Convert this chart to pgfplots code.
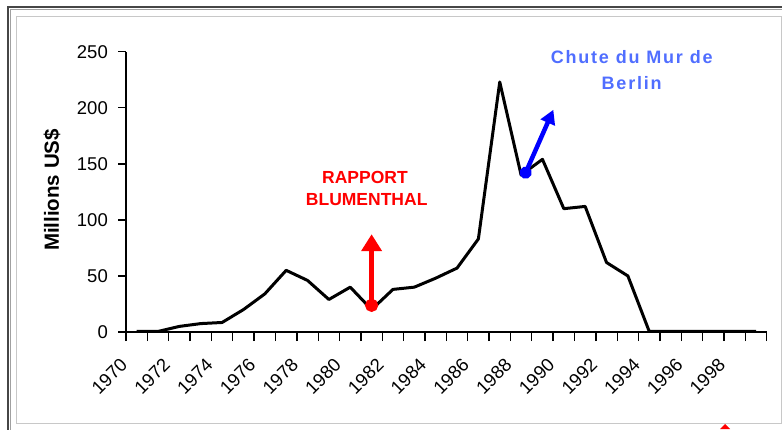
\documentclass[border=0pt]{standalone}
\usepackage{fontspec}
\setmainfont{Liberation Sans}
\newfontfamily\spacedfont[LetterSpace=10]{Liberation Sans}
\usepackage{pgfplots}
\pgfplotsset{compat=1.18}
\usetikzlibrary{arrows.meta}
\definecolor{berlinblue}{RGB}{80,110,255}
\definecolor{framedark}{RGB}{70,70,70}
\definecolor{framelight}{RGB}{200,200,200}
\newcommand{\tl}[1]{\fontsize{18.5}{20}\selectfont #1}
\begin{document}
\begin{tikzpicture}
\draw[framelight, line width=1pt] (16.3pt,5.7pt) rectangle (781pt,412.7pt);
\draw[framedark, line width=2.2pt] (7.8pt,-20pt) -- (7.8pt,421.7pt) -- (800pt,421.7pt);
\draw[framelight!80!black, line width=0.8pt] (10.2pt,-20pt) -- (10.2pt,419.3pt) -- (800pt,419.3pt);
\begin{axis}[
  at={(126pt,97pt)}, anchor=south west,
  scale only axis, width=640.7pt, height=280.3pt,
  xmin=1969.5, xmax=1999.5, ymin=0, ymax=250,
  axis x line*=bottom, axis y line*=left,
  axis line style={black, line width=1.5pt},
  ytick={0,50,100,150,200,250},
  yticklabels={\tl{0},\tl{50},\tl{100},\tl{150},\tl{200},\tl{250}},
  xtick={1970,1972,1974,1976,1978,1980,1982,1984,1986,1988,1990,1992,1994,1996,1998},
  xticklabels={\tl{1970},\tl{1972},\tl{1974},\tl{1976},\tl{1978},\tl{1980},\tl{1982},\tl{1984},\tl{1986},\tl{1988},\tl{1990},\tl{1992},\tl{1994},\tl{1996},\tl{1998}},
  minor xtick={1969.5,1970.5,...,1999.5},
  major x tick style={draw=none},
  tick align=outside,
  major tick length=8pt, minor tick length=9pt,
  tick style={black, line width=1.4pt},
  xticklabel style={inner sep=0pt, xshift=-17.3pt, yshift=-17pt, rotate=45, anchor=north east},
  yticklabel style={inner sep=0pt, anchor=east, xshift=-10pt},
  clip=false,
]
\addplot[black, line width=3pt, line join=round] coordinates {
(1970,0.5) (1971,0.5) (1972,5) (1973,7.5) (1974,8.5) (1975,20) (1976,34)
(1977,55) (1978,46) (1979,29) (1980,40) (1981,20) (1982,38) (1983,40)
(1984,48) (1985,57) (1986,83) (1987,223) (1988,140) (1989,154) (1990,110)
(1991,112) (1992,62) (1993,50) (1994,0.5) (1995,0.5) (1996,0.5) (1997,0.5)
(1998,0.5) (1999,0.5)
};
\draw[red, line width=5pt, {Circle[length=13pt,width=13pt]}-{Triangle[length=17pt,width=20pt]}]
  (axis cs:1981,18) -- (axis cs:1981,87.2);
\draw[blue, line width=4.5pt, {Circle[length=12pt,width=12pt]}-{Triangle[length=14pt,width=15pt]}]
  (axis cs:1988.1,137.2) -- (axis cs:1989.51,198.2);
\end{axis}
\node[rotate=90, font=\fontsize{20.5}{22}\selectfont\bfseries] at (52pt,239pt) {Millions US\$};
\node[red, anchor=base, font=\fontsize{17.5}{20}\selectfont\bfseries] at (365pt,245.3pt) {RAPPORT};
\node[red, anchor=base, font=\fontsize{17.5}{20}\selectfont\bfseries] at (366.7pt,223.2pt) {BLUMENTHAL};
\node[berlinblue, anchor=base, font=\fontsize{18}{20}\spacedfont\bfseries] at (631.7pt,365.7pt) {Chute du Mur de};
\node[berlinblue, anchor=base, font=\fontsize{18}{20}\spacedfont\bfseries] at (631.7pt,339pt) {Berlin};
\fill[red] (720pt,0pt) -- (725pt,5pt) -- (730pt,0pt) -- cycle;
\pgfresetboundingbox
\path (0pt,0pt) rectangle (782pt,429pt);
\end{tikzpicture}
\end{document}
